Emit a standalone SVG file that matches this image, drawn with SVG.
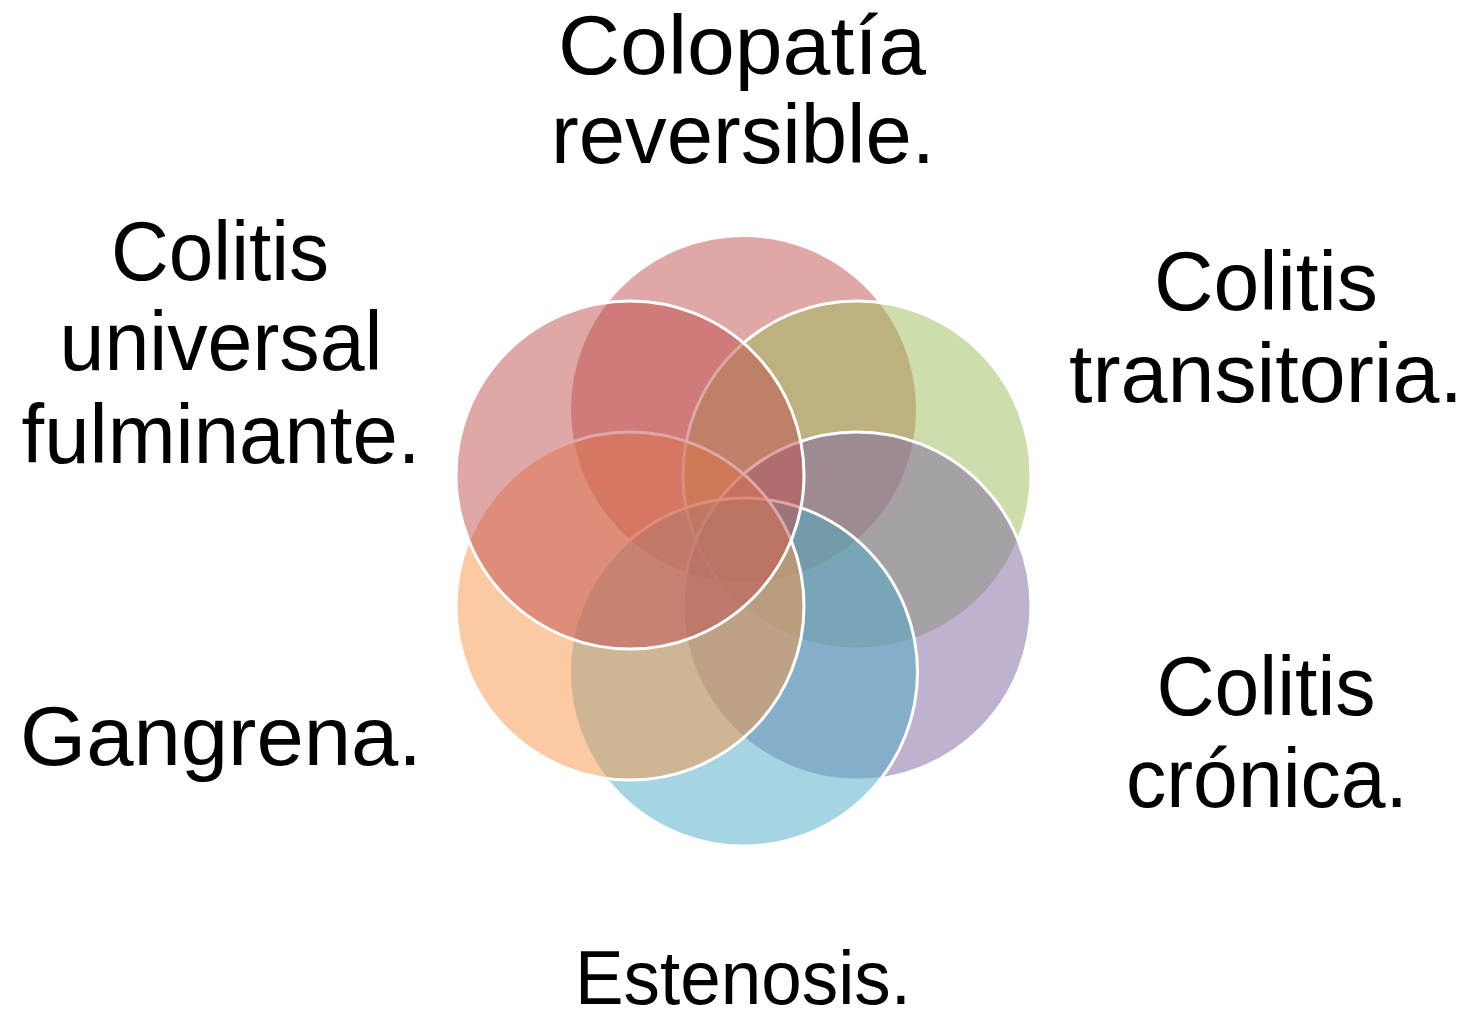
<svg xmlns="http://www.w3.org/2000/svg" width="1470" height="1020" viewBox="0 0 1470 1020">
<style>
.c{fill-opacity:0.5;stroke:#FFFFFF;stroke-width:3}
.t{font-family:"Liberation Sans",Arial,sans-serif;font-size:84px;fill:#000000;text-anchor:middle}
</style>
<rect width="1470" height="1020" fill="#FFFFFF"/>
<g id="node-colopatia">
<circle class="c" cx="743.5" cy="409.5" r="174" fill="#C0504D"/>
<text class="t" x="742" y="74" textLength="368" lengthAdjust="spacingAndGlyphs">Colopatía</text>
<text class="t" x="743" y="163" textLength="384" lengthAdjust="spacingAndGlyphs">reversible.</text>
</g>
<g id="node-transitoria">
<circle class="c" cx="857" cy="475" r="174" fill="#9BBB59"/>
<text class="t" x="1266" y="310" textLength="224" lengthAdjust="spacingAndGlyphs">Colitis</text>
<text class="t" x="1266" y="402" textLength="394" lengthAdjust="spacingAndGlyphs">transitoria.</text>
</g>
<g id="node-cronica">
<circle class="c" cx="857" cy="606" r="174" fill="#8064A2"/>
<text class="t" x="1266" y="715" textLength="219" lengthAdjust="spacingAndGlyphs">Colitis</text>
<text class="t" x="1267" y="807" textLength="282" lengthAdjust="spacingAndGlyphs">crónica.</text>
</g>
<g id="node-estenosis">
<circle class="c" cx="743.5" cy="672" r="174" fill="#4BACC6"/>
<text class="t" x="743" y="1004" style="font-size:76px" textLength="336" lengthAdjust="spacingAndGlyphs">Estenosis.</text>
</g>
<g id="node-gangrena">
<circle class="c" cx="630" cy="606" r="174" fill="#F79646"/>
<text class="t" x="221" y="765" textLength="402" lengthAdjust="spacingAndGlyphs">Gangrena.</text>
</g>
<g id="node-fulminante">
<circle class="c" cx="630" cy="475" r="174" fill="#C0504D"/>
<text class="t" x="220" y="280" textLength="218" lengthAdjust="spacingAndGlyphs">Colitis</text>
<text class="t" x="221" y="370" textLength="323" lengthAdjust="spacingAndGlyphs">universal</text>
<text class="t" x="221" y="463" textLength="399" lengthAdjust="spacingAndGlyphs">fulminante.</text>
</g>
<g id="connectors"></g>
</svg>
